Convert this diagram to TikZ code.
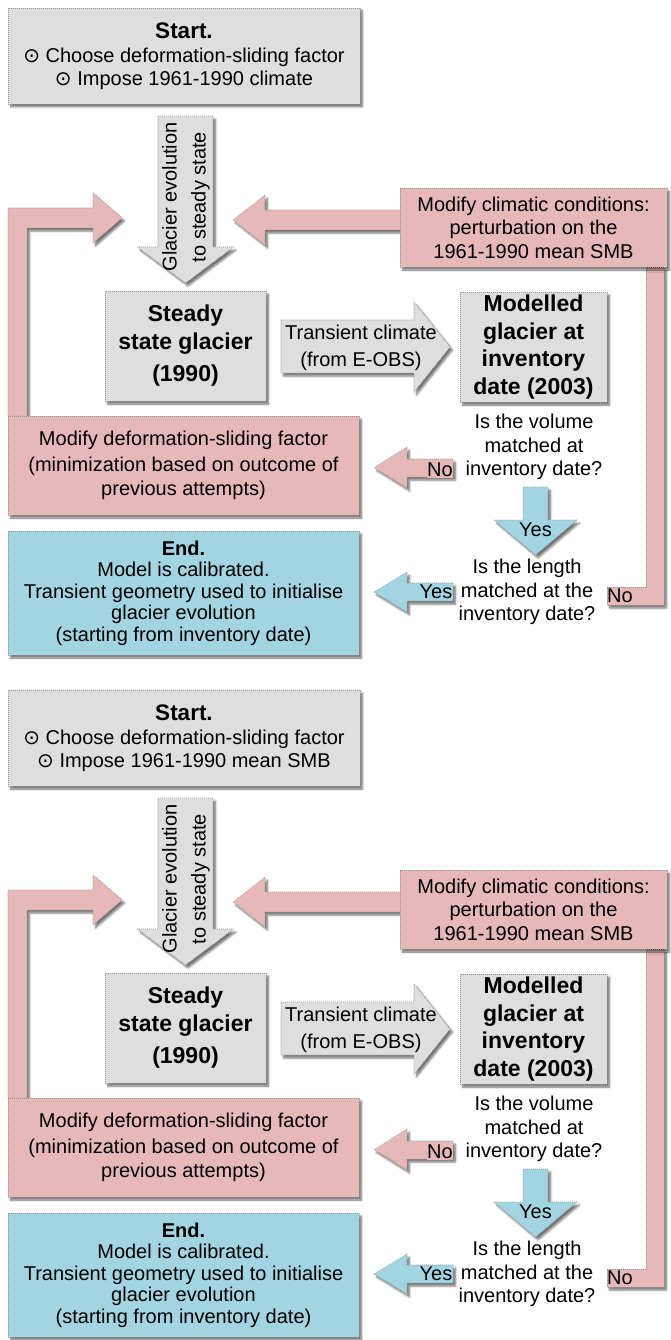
\documentclass[tikz,border=0pt]{standalone}
\usepackage{fontspec}
\setmainfont{Liberation Sans}
\newfontfamily\symf{DejaVu Sans}
\usetikzlibrary{shadows.blur}
\definecolor{gfill}{RGB}{222,222,222}
\definecolor{pfill}{RGB}{230,185,184}
\definecolor{bfill}{RGB}{163,212,226}
\definecolor{bord}{RGB}{150,150,150}
\newcommand\fs{\fontsize{20pt}{23.5pt}\selectfont}
\newcommand\fb{\fontsize{23pt}{27.5pt}\selectfont\bfseries}
\tikzset{
  shp/.style={draw=bord, line width=0.6pt, dash pattern=on 0.8pt off 1.2pt,
    blur shadow={shadow xshift=2.5pt, shadow yshift=-3pt, shadow opacity=55, shadow blur radius=2pt, shadow blur steps=5}},
  boxbase/.style={shp, inner sep=0pt, align=center, font=\fs, text=black},
  graybox/.style={boxbase, fill=gfill},
  pinkbox/.style={boxbase, fill=pfill},
  bluebox/.style={boxbase, fill=bfill},
  grayarrow/.style={shp, fill=gfill},
  pinkarrow/.style={shp, fill=pfill},
  bluearrow/.style={shp, fill=bfill},
  plaintext/.style={align=center, font=\fs, inner sep=0pt},
  lab/.style={font=\fs, inner sep=0.6pt}
}
\newcommand\onechart[3]{%
\begin{scope}[shift={(0,#3)}, name prefix=#1-]
  % loop arrows (drawn first, boxes cover their ends)
  \path[pinkarrow] (8,416) -- (8,208) -- (93,208) -- (93,193) -- (122,218) -- (93,243) -- (93,228) -- (27,228) -- (27,416) -- cycle;
  \path[pinkarrow] (646,267) -- (646,587) -- (607,587) -- (607,605) -- (664,605) -- (664,267) -- cycle;
  \path[pinkarrow] (401,210) -- (265,210) -- (265,195) -- (233,220) -- (265,245) -- (265,230) -- (401,230) -- cycle;
  % boxes
  \node[graybox, minimum width=352pt, minimum height=96pt] (start) at (184,56)
    {{\fontsize{22.5pt}{26pt}\selectfont\bfseries Start.}\\[0.5pt]
     {\symf ⊙} Choose deformation-sliding factor\\
     {\symf ⊙} #2};
  \node[pinkbox, minimum width=267pt, minimum height=79pt] (climate) at (533.5,227.5)
    {Modify climatic conditions:\\perturbation on the\\1961-1990 mean SMB};
  \node[graybox, minimum width=161pt, minimum height=110pt, font=\fb] (steady) at (185.5,346)
    {Steady\\state glacier\\[5pt](1990)};
  \node[graybox, minimum width=147pt, minimum height=110pt, font=\fb] (model) at (533.5,347)
    {Modelled\\glacier at\\inventory\\date (2003)};
  \node[pinkbox, minimum width=351pt, minimum height=99pt] (deform) at (183.5,465.5)
    {Modify deformation-sliding factor\\[2.5pt](minimization based on outcome of\\previous attempts)};
  \node[bluebox, minimum width=351pt, minimum height=124pt, font=\fontsize{20pt}{21.5pt}\selectfont] (endbox) at (183.5,593)
    {{\bfseries End.}\\Model is calibrated.\\Transient geometry used to initialise\\glacier evolution\\(starting from inventory date)};
  % gray down arrow
  \path[grayarrow] (158,116) -- (213,116) -- (213,247) -- (233.5,247) -- (185.5,283) -- (137.5,247) -- (158,247) -- cycle;
  \node[plaintext, rotate=90, font=\fontsize{20pt}{29pt}\selectfont] (evol) at (186,197) {Glacier evolution\\to steady state};
  % transient arrow
  \path[grayarrow] (281,320) -- (414,320) -- (414,302) -- (450,347) -- (414,392) -- (414,373) -- (281,373) -- cycle;
  \node[plaintext, font=\fontsize{20pt}{27pt}\selectfont] (trans) at (361,348) {Transient climate\\(from E-OBS)};
  % questions
  \node[plaintext] (q1) at (534,447) {Is the volume\\matched at\\inventory date?};
  \node[plaintext] (q2) at (527,592) {Is the length\\matched at the\\inventory date?};
  % No arrow to deform
  \path[pinkarrow] (453,459) -- (407,459) -- (407,447) -- (374,467.5) -- (407,488) -- (407,477) -- (453,477) -- cycle;
  \node[lab, fill=pfill] (no1) at (440,470) {No};
  % Yes arrow down
  \path[bluearrow] (523,487) -- (548,487) -- (548,520) -- (577,520) -- (535.5,555) -- (494,520) -- (523,520) -- cycle;
  \node[lab] (yes1) at (535.5,530) {Yes};
  % Yes arrow to end
  \path[bluearrow] (453,583) -- (407,583) -- (407,572) -- (374,592) -- (407,612) -- (407,601) -- (453,601) -- cycle;
  \node[lab, fill=bfill] (yes2) at (436,592) {Yes};
  \node[lab] (no2) at (620,596) {No};
\end{scope}}
\begin{document}
\begin{tikzpicture}[x=1pt, y=-1pt]
  \useasboundingbox (0,0) rectangle (671,1340);
  \onechart{top}{Impose 1961-1990 climate}{0}
  \onechart{bot}{Impose 1961-1990 mean SMB}{682}
\end{tikzpicture}
\end{document}
